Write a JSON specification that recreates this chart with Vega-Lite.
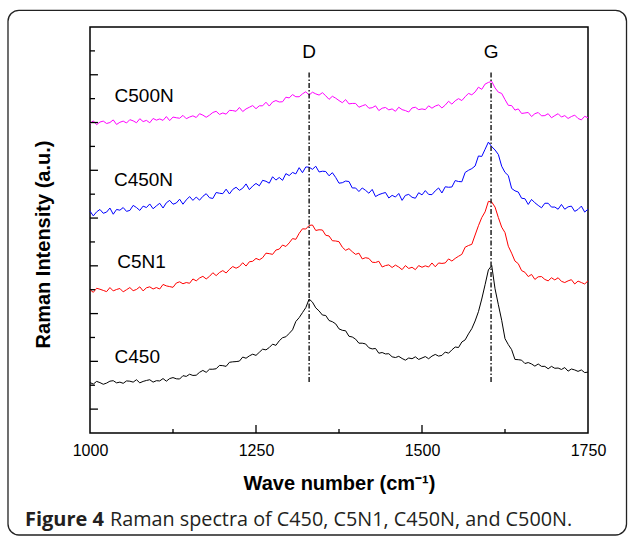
{
"$schema": "https://vega.github.io/schema/vega-lite/v6.json",
"width": 498,
"height": 406,
"autosize": {"type": "none"},
"padding": {"left": 90, "top": 27, "right": 41, "bottom": 105},
"background": "white",
"config": {
"view": {"stroke": "black", "strokeWidth": 1.5},
"font": "Liberation Sans",
"axis": {"grid": false, "ticks": false, "domain": false, "labelColor": "black", "titleColor": "black", "titleFontSize": 20, "titleFontWeight": "bold"},
"axisX": {"labelFontSize": 16, "labelPadding": 9, "labelFlush": false, "titlePadding": 15, "format": "d"},
"axisY": {"labels": false, "titlePadding": 37, "titleY": 217}
},
"datasets": {
"spectra": [
{"x":1000,"C450":2.11,"C5N1":6.00,"C450N":9.29,"C500N":12.96},
{"x":1005,"C450":2.05,"C5N1":5.89,"C450N":9.09,"C500N":13.07},
{"x":1010,"C450":2.16,"C5N1":6.06,"C450N":9.26,"C500N":12.91},
{"x":1015,"C450":2.11,"C5N1":6.02,"C450N":9.36,"C500N":13.02},
{"x":1020,"C450":2.04,"C5N1":5.97,"C450N":9.20,"C500N":13.06},
{"x":1025,"C450":2.09,"C5N1":5.92,"C450N":9.25,"C500N":12.96},
{"x":1030,"C450":2.17,"C5N1":6.09,"C450N":9.42,"C500N":13.00},
{"x":1035,"C450":2.19,"C5N1":5.95,"C450N":9.16,"C500N":13.11},
{"x":1040,"C450":2.10,"C5N1":6.01,"C450N":9.36,"C500N":12.92},
{"x":1045,"C450":2.13,"C5N1":6.05,"C450N":9.33,"C500N":13.01},
{"x":1050,"C450":2.08,"C5N1":5.91,"C450N":9.44,"C500N":13.06},
{"x":1055,"C450":2.18,"C5N1":6.00,"C450N":9.28,"C500N":12.98},
{"x":1060,"C450":2.17,"C5N1":6.09,"C450N":9.32,"C500N":13.12},
{"x":1065,"C450":2.13,"C5N1":5.96,"C450N":9.53,"C500N":13.07},
{"x":1070,"C450":2.23,"C5N1":6.01,"C450N":9.44,"C500N":12.99},
{"x":1075,"C450":2.10,"C5N1":6.12,"C450N":9.32,"C500N":13.16},
{"x":1080,"C450":2.16,"C5N1":5.95,"C450N":9.50,"C500N":13.04},
{"x":1085,"C450":2.20,"C5N1":6.08,"C450N":9.44,"C500N":13.09},
{"x":1090,"C450":2.23,"C5N1":6.12,"C450N":9.59,"C500N":12.99},
{"x":1095,"C450":2.13,"C5N1":6.03,"C450N":9.39,"C500N":13.17},
{"x":1100,"C450":2.19,"C5N1":6.09,"C450N":9.51,"C500N":13.10},
{"x":1105,"C450":2.18,"C5N1":6.03,"C450N":9.62,"C500N":13.15},
{"x":1110,"C450":2.28,"C5N1":6.22,"C450N":9.42,"C500N":13.09},
{"x":1115,"C450":2.17,"C5N1":6.16,"C450N":9.64,"C500N":13.25},
{"x":1120,"C450":2.28,"C5N1":6.13,"C450N":9.74,"C500N":13.08},
{"x":1125,"C450":2.32,"C5N1":6.10,"C450N":9.58,"C500N":13.23},
{"x":1130,"C450":2.27,"C5N1":6.28,"C450N":9.63,"C500N":13.20},
{"x":1135,"C450":2.26,"C5N1":6.33,"C450N":9.79,"C500N":13.18},
{"x":1140,"C450":2.40,"C5N1":6.25,"C450N":9.58,"C500N":13.30},
{"x":1145,"C450":2.37,"C5N1":6.30,"C450N":9.76,"C500N":13.16},
{"x":1150,"C450":2.46,"C5N1":6.27,"C450N":9.90,"C500N":13.23},
{"x":1155,"C450":2.41,"C5N1":6.45,"C450N":9.74,"C500N":13.28},
{"x":1160,"C450":2.42,"C5N1":6.37,"C450N":9.88,"C500N":13.21},
{"x":1165,"C450":2.54,"C5N1":6.49,"C450N":9.75,"C500N":13.37},
{"x":1170,"C450":2.62,"C5N1":6.56,"C450N":9.91,"C500N":13.31},
{"x":1175,"C450":2.54,"C5N1":6.45,"C450N":10.02,"C500N":13.22},
{"x":1180,"C450":2.67,"C5N1":6.56,"C450N":9.85,"C500N":13.31},
{"x":1185,"C450":2.67,"C5N1":6.71,"C450N":9.82,"C500N":13.42},
{"x":1190,"C450":2.69,"C5N1":6.59,"C450N":10.07,"C500N":13.47},
{"x":1195,"C450":2.83,"C5N1":6.72,"C450N":10.04,"C500N":13.34},
{"x":1200,"C450":2.82,"C5N1":6.80,"C450N":10.02,"C500N":13.40},
{"x":1205,"C450":2.79,"C5N1":6.70,"C450N":10.21,"C500N":13.35},
{"x":1210,"C450":2.96,"C5N1":6.85,"C450N":10.01,"C500N":13.51},
{"x":1215,"C450":2.98,"C5N1":6.97,"C450N":10.20,"C500N":13.50},
{"x":1220,"C450":2.99,"C5N1":6.90,"C450N":10.29,"C500N":13.47},
{"x":1225,"C450":3.01,"C5N1":6.97,"C450N":10.16,"C500N":13.63},
{"x":1230,"C450":3.18,"C5N1":7.13,"C450N":10.25,"C500N":13.46},
{"x":1235,"C450":3.13,"C5N1":6.99,"C450N":10.43,"C500N":13.57},
{"x":1240,"C450":3.23,"C5N1":7.17,"C450N":10.19,"C500N":13.64},
{"x":1245,"C450":3.30,"C5N1":7.19,"C450N":10.34,"C500N":13.71},
{"x":1250,"C450":3.25,"C5N1":7.31,"C450N":10.45,"C500N":13.58},
{"x":1255,"C450":3.38,"C5N1":7.25,"C450N":10.35,"C500N":13.70},
{"x":1260,"C450":3.51,"C5N1":7.34,"C450N":10.58,"C500N":13.70},
{"x":1265,"C450":3.48,"C5N1":7.53,"C450N":10.54,"C500N":13.85},
{"x":1270,"C450":3.58,"C5N1":7.51,"C450N":10.46,"C500N":13.69},
{"x":1275,"C450":3.72,"C5N1":7.48,"C450N":10.73,"C500N":13.86},
{"x":1280,"C450":3.67,"C5N1":7.66,"C450N":10.59,"C500N":13.92},
{"x":1285,"C450":3.86,"C5N1":7.70,"C450N":10.70,"C500N":13.86},
{"x":1290,"C450":3.99,"C5N1":7.87,"C450N":10.58,"C500N":13.87},
{"x":1295,"C450":4.03,"C5N1":7.81,"C450N":10.86,"C500N":14.06},
{"x":1300,"C450":4.17,"C5N1":7.96,"C450N":10.78,"C500N":14.03},
{"x":1305,"C450":4.32,"C5N1":8.14,"C450N":10.91,"C500N":14.17},
{"x":1310,"C450":4.67,"C5N1":8.11,"C450N":10.85,"C500N":14.08},
{"x":1315,"C450":4.83,"C5N1":8.36,"C450N":11.11,"C500N":14.08},
{"x":1320,"C450":5.04,"C5N1":8.55,"C450N":10.90,"C500N":14.20},
{"x":1325,"C450":5.25,"C5N1":8.54,"C450N":11.14,"C500N":14.29},
{"x":1330,"C450":5.61,"C5N1":8.69,"C450N":11.13,"C500N":14.15},
{"x":1335,"C450":5.48,"C5N1":8.71,"C450N":11.04,"C500N":14.27},
{"x":1340,"C450":5.24,"C5N1":8.48,"C450N":11.17,"C500N":14.20},
{"x":1345,"C450":5.11,"C5N1":8.51,"C450N":10.93,"C500N":14.15},
{"x":1350,"C450":4.94,"C5N1":8.50,"C450N":10.96,"C500N":14.25},
{"x":1355,"C450":4.92,"C5N1":8.28,"C450N":10.95,"C500N":14.12},
{"x":1360,"C450":4.71,"C5N1":8.25,"C450N":10.77,"C500N":13.97},
{"x":1365,"C450":4.66,"C5N1":8.05,"C450N":10.90,"C500N":14.10},
{"x":1370,"C450":4.57,"C5N1":8.04,"C450N":10.70,"C500N":14.02},
{"x":1375,"C450":4.36,"C5N1":8.01,"C450N":10.46,"C500N":13.92},
{"x":1380,"C450":4.30,"C5N1":7.78,"C450N":10.48,"C500N":13.83},
{"x":1385,"C450":4.28,"C5N1":7.65,"C450N":10.55,"C500N":13.96},
{"x":1390,"C450":4.05,"C5N1":7.72,"C450N":10.53,"C500N":13.78},
{"x":1395,"C450":4.02,"C5N1":7.59,"C450N":10.26,"C500N":13.80},
{"x":1400,"C450":3.93,"C5N1":7.48,"C450N":10.26,"C500N":13.80},
{"x":1405,"C450":3.76,"C5N1":7.53,"C450N":10.11,"C500N":13.64},
{"x":1410,"C450":3.76,"C5N1":7.29,"C450N":10.26,"C500N":13.70},
{"x":1415,"C450":3.73,"C5N1":7.34,"C450N":10.16,"C500N":13.75},
{"x":1420,"C450":3.57,"C5N1":7.31,"C450N":10.04,"C500N":13.60},
{"x":1425,"C450":3.52,"C5N1":7.15,"C450N":10.20,"C500N":13.62},
{"x":1430,"C450":3.54,"C5N1":7.14,"C450N":9.90,"C500N":13.70},
{"x":1435,"C450":3.34,"C5N1":7.19,"C450N":9.98,"C500N":13.50},
{"x":1440,"C450":3.37,"C5N1":6.95,"C450N":10.03,"C500N":13.60},
{"x":1445,"C450":3.31,"C5N1":7.01,"C450N":10.07,"C500N":13.63},
{"x":1450,"C450":3.32,"C5N1":7.04,"C450N":9.84,"C500N":13.53},
{"x":1455,"C450":3.19,"C5N1":6.93,"C450N":9.95,"C500N":13.57},
{"x":1460,"C450":3.16,"C5N1":7.03,"C450N":9.88,"C500N":13.47},
{"x":1465,"C450":3.21,"C5N1":6.95,"C450N":10.03,"C500N":13.64},
{"x":1470,"C450":3.12,"C5N1":6.84,"C450N":9.74,"C500N":13.54},
{"x":1475,"C450":3.05,"C5N1":7.01,"C450N":9.95,"C500N":13.50},
{"x":1480,"C450":3.14,"C5N1":6.89,"C450N":9.99,"C500N":13.44},
{"x":1485,"C450":3.11,"C5N1":6.94,"C450N":9.87,"C500N":13.61},
{"x":1490,"C450":3.19,"C5N1":6.84,"C450N":9.83,"C500N":13.64},
{"x":1495,"C450":3.08,"C5N1":7.01,"C450N":10.06,"C500N":13.54},
{"x":1500,"C450":3.14,"C5N1":6.94,"C450N":9.97,"C500N":13.57},
{"x":1505,"C450":3.20,"C5N1":7.00,"C450N":10.15,"C500N":13.54},
{"x":1510,"C450":3.11,"C5N1":6.95,"C450N":9.99,"C500N":13.70},
{"x":1515,"C450":3.22,"C5N1":7.12,"C450N":9.98,"C500N":13.60},
{"x":1520,"C450":3.29,"C5N1":6.96,"C450N":10.14,"C500N":13.69},
{"x":1525,"C450":3.22,"C5N1":7.12,"C450N":10.26,"C500N":13.74},
{"x":1530,"C450":3.25,"C5N1":7.10,"C450N":10.05,"C500N":13.61},
{"x":1535,"C450":3.39,"C5N1":7.12,"C450N":10.31,"C500N":13.73},
{"x":1540,"C450":3.34,"C5N1":7.29,"C450N":10.29,"C500N":13.89},
{"x":1545,"C450":3.48,"C5N1":7.20,"C450N":10.30,"C500N":13.77},
{"x":1550,"C450":3.60,"C5N1":7.31,"C450N":10.57,"C500N":13.91},
{"x":1555,"C450":3.58,"C5N1":7.40,"C450N":10.53,"C500N":14.00},
{"x":1560,"C450":3.81,"C5N1":7.48,"C450N":10.52,"C500N":13.92},
{"x":1565,"C450":3.90,"C5N1":7.78,"C450N":10.91,"C500N":14.08},
{"x":1570,"C450":4.15,"C5N1":7.85,"C450N":11.00,"C500N":14.22},
{"x":1575,"C450":4.37,"C5N1":7.90,"C450N":11.07,"C500N":14.16},
{"x":1580,"C450":4.69,"C5N1":8.29,"C450N":11.18,"C500N":14.28},
{"x":1585,"C450":5.08,"C5N1":8.68,"C450N":11.60,"C500N":14.48},
{"x":1590,"C450":5.61,"C5N1":9.02,"C450N":11.58,"C500N":14.39},
{"x":1595,"C450":6.21,"C5N1":9.26,"C450N":11.88,"C500N":14.61},
{"x":1600,"C450":6.83,"C5N1":9.70,"C450N":12.18,"C500N":14.68},
{"x":1605,"C450":7.01,"C5N1":9.67,"C450N":11.99,"C500N":14.72},
{"x":1610,"C450":6.04,"C5N1":9.46,"C450N":11.85,"C500N":14.45},
{"x":1615,"C450":5.37,"C5N1":9.02,"C450N":11.66,"C500N":14.27},
{"x":1620,"C450":4.72,"C5N1":8.62,"C450N":11.17,"C500N":14.22},
{"x":1625,"C450":3.95,"C5N1":8.39,"C450N":10.91,"C500N":13.96},
{"x":1630,"C450":3.70,"C5N1":7.82,"C450N":10.78,"C500N":13.72},
{"x":1635,"C450":3.49,"C5N1":7.53,"C450N":10.24,"C500N":13.71},
{"x":1640,"C450":3.08,"C5N1":7.20,"C450N":10.14,"C500N":13.52},
{"x":1645,"C450":3.07,"C5N1":7.09,"C450N":10.09,"C500N":13.57},
{"x":1650,"C450":3.05,"C5N1":6.80,"C450N":9.83,"C500N":13.38},
{"x":1655,"C450":2.91,"C5N1":6.73,"C450N":9.81,"C500N":13.40},
{"x":1660,"C450":2.95,"C5N1":6.55,"C450N":9.57,"C500N":13.42},
{"x":1665,"C450":2.89,"C5N1":6.64,"C450N":9.78,"C500N":13.25},
{"x":1670,"C450":2.80,"C5N1":6.43,"C450N":9.64,"C500N":13.37},
{"x":1675,"C450":2.89,"C5N1":6.54,"C450N":9.53,"C500N":13.42},
{"x":1680,"C450":2.79,"C5N1":6.55,"C450N":9.43,"C500N":13.28},
{"x":1685,"C450":2.79,"C5N1":6.43,"C450N":9.62,"C500N":13.29},
{"x":1690,"C450":2.69,"C5N1":6.37,"C450N":9.62,"C500N":13.37},
{"x":1695,"C450":2.79,"C5N1":6.50,"C450N":9.46,"C500N":13.20},
{"x":1700,"C450":2.71,"C5N1":6.41,"C450N":9.46,"C500N":13.29},
{"x":1705,"C450":2.72,"C5N1":6.50,"C450N":9.37,"C500N":13.37},
{"x":1710,"C450":2.66,"C5N1":6.35,"C450N":9.57,"C500N":13.23},
{"x":1715,"C450":2.74,"C5N1":6.30,"C450N":9.37,"C500N":13.29},
{"x":1720,"C450":2.59,"C5N1":6.37,"C450N":9.47,"C500N":13.17},
{"x":1725,"C450":2.68,"C5N1":6.42,"C450N":9.50,"C500N":13.25},
{"x":1730,"C450":2.64,"C5N1":6.24,"C450N":9.28,"C500N":13.31},
{"x":1735,"C450":2.58,"C5N1":6.36,"C450N":9.36,"C500N":13.17},
{"x":1740,"C450":2.64,"C5N1":6.30,"C450N":9.50,"C500N":13.11},
{"x":1745,"C450":2.53,"C5N1":6.24,"C450N":9.25,"C500N":13.26},
{"x":1750,"C450":2.55,"C5N1":6.37,"C450N":9.37,"C500N":13.20}
],
"ticks": [
{"x":1125,"x2":1125,"y":0,"y2":0.17},
{"x":1250,"x2":1250,"y":0,"y2":0.34},
{"x":1375,"x2":1375,"y":0,"y2":0.17},
{"x":1500,"x2":1500,"y":0,"y2":0.34},
{"x":1625,"x2":1625,"y":0,"y2":0.17},
{"x":1000,"x2":1012,"y":1,"y2":1},
{"x":1000,"x2":1007.5,"y":2,"y2":2},
{"x":1000,"x2":1012,"y":3,"y2":3},
{"x":1000,"x2":1007.5,"y":4,"y2":4},
{"x":1000,"x2":1012,"y":5,"y2":5},
{"x":1000,"x2":1007.5,"y":6,"y2":6},
{"x":1000,"x2":1012,"y":7,"y2":7},
{"x":1000,"x2":1007.5,"y":8,"y2":8},
{"x":1000,"x2":1012,"y":9,"y2":9},
{"x":1000,"x2":1007.5,"y":10,"y2":10},
{"x":1000,"x2":1012,"y":11,"y2":11},
{"x":1000,"x2":1007.5,"y":12,"y2":12},
{"x":1000,"x2":1012,"y":13,"y2":13},
{"x":1000,"x2":1007.5,"y":14,"y2":14},
{"x":1000,"x2":1012,"y":15,"y2":15},
{"x":1000,"x2":1007.5,"y":16,"y2":16}
]
},
"layer": [
{
"data": {"name": "spectra"},
"transform": [{"fold": ["C450", "C5N1", "C450N", "C500N"], "as": ["series", "v"]}],
"mark": {"type": "line", "strokeWidth": 1},
"encoding": {
"x": {"field": "x", "type": "quantitative", "scale": {"domain": [1000, 1750], "nice": false, "zero": false}, "axis": {"values": [1000, 1250, 1500, 1750], "title": "Wave number (cm⁻¹)"}},
"y": {"field": "v", "type": "quantitative", "scale": {"domain": [0, 17], "nice": false, "zero": false}, "axis": {"title": "Raman Intensity (a.u.)"}},
"color": {"field": "series", "type": "nominal", "scale": {"domain": ["C450", "C5N1", "C450N", "C500N"], "range": ["#000000", "#ff0000", "#0000ff", "#ff00ff"]}, "legend": null},
"order": {"field": "x", "type": "quantitative"}
}
},
{
"data": {"values": [{"x1": 876.5, "x2": 1808, "y1": -4.27, "y2": 17.7}]},
"mark": {"type": "rect", "fill": "transparent", "stroke": "#222222", "strokeWidth": 1.3, "cornerRadius": 11},
"encoding": {
"x": {"field": "x1", "type": "quantitative", "scale": {"domain": [1000, 1750], "nice": false, "zero": false}, "axis": {"values": [1000, 1250, 1500, 1750], "title": "Wave number (cm⁻¹)"}},
"x2": {"field": "x2"},
"y": {"field": "y1", "type": "quantitative", "scale": {"domain": [0, 17], "nice": false, "zero": false}, "axis": {"title": "Raman Intensity (a.u.)"}},
"y2": {"field": "y2"}
}
},
{
"data": {"name": "ticks"},
"mark": {"type": "rule", "color": "black", "strokeWidth": 1.3},
"encoding": {
"x": {"field": "x", "type": "quantitative", "scale": {"domain": [1000, 1750], "nice": false, "zero": false}, "axis": {"values": [1000, 1250, 1500, 1750], "title": "Wave number (cm⁻¹)"}},
"x2": {"field": "x2"},
"y": {"field": "y", "type": "quantitative", "scale": {"domain": [0, 17], "nice": false, "zero": false}, "axis": {"title": "Raman Intensity (a.u.)"}},
"y2": {"field": "y2"}
}
},
{
"data": {"values": [{"x": 1330, "y": 2.14, "y2": 15.12}, {"x": 1604, "y": 2.14, "y2": 15.12}]},
"mark": {"type": "rule", "color": "black", "strokeWidth": 1.3, "strokeDash": [5, 2, 1.5, 2]},
"encoding": {
"x": {"field": "x", "type": "quantitative", "scale": {"domain": [1000, 1750], "nice": false, "zero": false}, "axis": {"values": [1000, 1250, 1500, 1750], "title": "Wave number (cm⁻¹)"}},
"y": {"field": "y", "type": "quantitative", "scale": {"domain": [0, 17], "nice": false, "zero": false}, "axis": {"title": "Raman Intensity (a.u.)"}},
"y2": {"field": "y2"}
}
},
{
"data": {"values": [{"x": 1330, "y": 15.95, "t": "D"}, {"x": 1604, "y": 15.95, "t": "G"}]},
"mark": {"type": "text", "fontSize": 19, "color": "black", "align": "center", "baseline": "middle"},
"encoding": {
"x": {"field": "x", "type": "quantitative", "scale": {"domain": [1000, 1750], "nice": false, "zero": false}, "axis": {"values": [1000, 1250, 1500, 1750], "title": "Wave number (cm⁻¹)"}},
"y": {"field": "y", "type": "quantitative", "scale": {"domain": [0, 17], "nice": false, "zero": false}, "axis": {"title": "Raman Intensity (a.u.)"}},
"text": {"field": "t"}
}
},
{
"data": {"values": [{"x": 1037, "y": 14.11, "t": "C500N"}, {"x": 1036, "y": 10.59, "t": "C450N"}, {"x": 1041, "y": 7.16, "t": "C5N1"}, {"x": 1037, "y": 3.18, "t": "C450"}]},
"mark": {"type": "text", "fontSize": 19, "color": "black", "align": "left", "baseline": "middle"},
"encoding": {
"x": {"field": "x", "type": "quantitative", "scale": {"domain": [1000, 1750], "nice": false, "zero": false}, "axis": {"values": [1000, 1250, 1500, 1750], "title": "Wave number (cm⁻¹)"}},
"y": {"field": "y", "type": "quantitative", "scale": {"domain": [0, 17], "nice": false, "zero": false}, "axis": {"title": "Raman Intensity (a.u.)"}},
"text": {"field": "t"}
}
},
{
"data": {"values": [{"x": 902.1, "y": -3.64, "t": "Figure 4"}]},
"mark": {"type": "text", "fontSize": 20, "font": "Open Sans", "fontWeight": "bold", "color": "#231f20", "align": "left", "baseline": "middle"},
"encoding": {
"x": {"field": "x", "type": "quantitative", "scale": {"domain": [1000, 1750], "nice": false, "zero": false}, "axis": {"values": [1000, 1250, 1500, 1750], "title": "Wave number (cm⁻¹)"}},
"y": {"field": "y", "type": "quantitative", "scale": {"domain": [0, 17], "nice": false, "zero": false}, "axis": {"title": "Raman Intensity (a.u.)"}},
"text": {"field": "t"}
}
},
{
"data": {"values": [{"x": 1030.1, "y": -3.64, "t": "Raman spectra of C450, C5N1, C450N, and C500N."}]},
"mark": {"type": "text", "fontSize": 19.8, "font": "Open Sans", "color": "#231f20", "align": "left", "baseline": "middle"},
"encoding": {
"x": {"field": "x", "type": "quantitative", "scale": {"domain": [1000, 1750], "nice": false, "zero": false}, "axis": {"values": [1000, 1250, 1500, 1750], "title": "Wave number (cm⁻¹)"}},
"y": {"field": "y", "type": "quantitative", "scale": {"domain": [0, 17], "nice": false, "zero": false}, "axis": {"title": "Raman Intensity (a.u.)"}},
"text": {"field": "t"}
}
}
]
}
